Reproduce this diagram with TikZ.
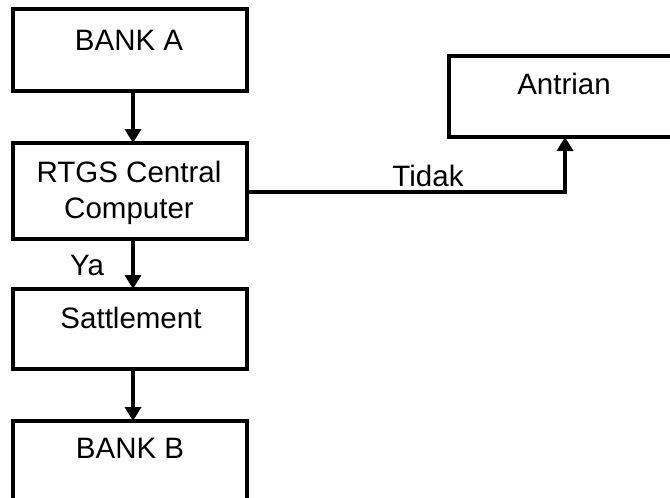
\documentclass[tikz,border=0pt]{standalone}
\usepackage{fontspec}
\setmainfont{Liberation Sans}
\usetikzlibrary{arrows.meta}
\begin{document}
\begin{tikzpicture}[x=1pt,y=-1pt,
  box/.style={draw=black, line width=4pt, rectangle, inner sep=0pt, outer sep=0pt},
  txt/.style={font=\fontsize{29.5}{36}\selectfont, inner sep=0pt, anchor=base},
  conn/.style={line width=4pt, -{Triangle[width=16pt,length=14pt]}}]
\useasboundingbox (0,0) rectangle (670,498);
\clip (0,0) rectangle (670,498);
\fill[white] (0,0) rectangle (670,498);
\node[box, minimum width=234pt, minimum height=82pt] (bankA) at (130,50) {};
\node[box, minimum width=234pt, minimum height=96pt] (rtgs) at (130,191) {};
\node[box, minimum width=234pt, minimum height=80pt] (sat) at (130,329) {};
\node[box, minimum width=234pt, minimum height=100pt] (bankB) at (130,471) {};
\node[box, minimum width=252pt, minimum height=81pt] (antr) at (575,96.5) {};
\node[txt] (tA) at (129,50) {BANK A};
\node[txt] (tR1) at (129,182) {RTGS Central};
\node[txt] (tR2) at (129,218) {Computer};
\node[txt] (tS) at (131,328) {Sattlement};
\node[txt] (tB) at (130,458) {BANK B};
\node[txt] (tAn) at (564,94) {Antrian};
\node[txt] (tYa) at (87,275) {Ya};
\node[txt] (tTi) at (428,186) {Tidak};
\coordinate (corner) at (565,192);
\draw[conn] (bankA.south -| 133,0) -- (rtgs.north -| 133,0);
\draw[conn] (rtgs.south -| 133,0) -- (sat.north -| 133,0);
\draw[conn] (sat.south -| 133,0) -- (bankB.north -| 133,0);
\draw[conn] (rtgs.east |- corner) -- (corner) -- (antr.south -| corner);
\end{tikzpicture}
\end{document}
